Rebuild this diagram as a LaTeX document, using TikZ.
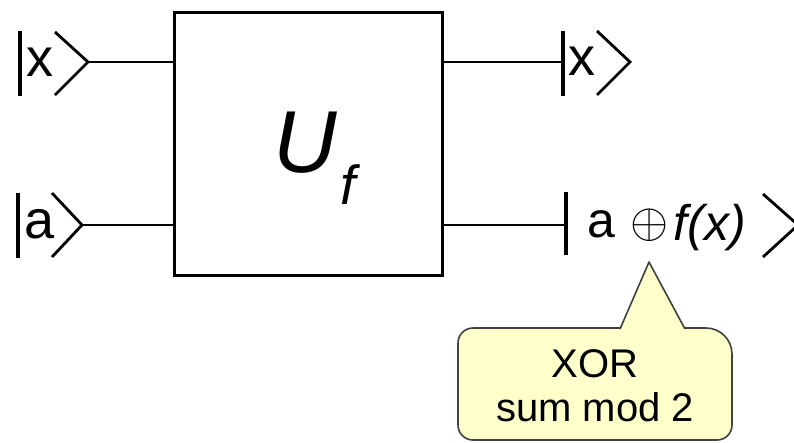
\documentclass[tikz,border=0pt]{standalone}
\usepackage{fontspec}
\setmainfont{Liberation Sans}
\usetikzlibrary{positioning}
\definecolor{calloutfill}{HTML}{FFFFCC}
\definecolor{calloutdraw}{HTML}{404040}

\begin{document}
\begin{tikzpicture}[x=1pt, y=-1pt, every node/.style={inner sep=0pt},
	gatebox/.style={draw, line width=3pt, minimum width=268pt, minimum height=263pt},
	wire/.style={line width=2.5pt},
	ketbar/.style={line width=3.5pt},
	ketangle/.style={line width=2.8pt, line join=miter},
	ketletter/.style={anchor=base, font=\fontsize{54}{60}\selectfont},
	callout/.style={fill=calloutfill, draw=calloutdraw, line width=1.6pt}]
	\useasboundingbox (0,0) rectangle (794,442);
	% gate
	\node[gatebox] (Uf) at (308.5,144) {};
	\node[anchor=base, font=\fontsize{88}{90}\selectfont\itshape] (Ulabel) at (305,172) {U};
	\node[anchor=base, font=\fontsize{55}{60}\selectfont\itshape] (flabel) at (348,204) {f};
	% inputs
	\draw[ketbar] (20,31) -- (20,96);
	\node[ketletter] (xinlabel) at (40.5,76) {x};
	\coordinate (xin) at (88,62);
	\draw[ketangle] (55,32) -- (xin) -- (55,95);
	\draw[ketbar] (18,193) -- (18,258);
	\node[ketletter] (ainlabel) at (40,238) {a};
	\coordinate (ain) at (82,225);
	\draw[ketangle] (52,193) -- (ain) -- (52,257);
	\draw[wire] (xin) -- (Uf.west |- xin);
	\draw[wire] (ain) -- (Uf.west |- ain);
	% outputs
	\coordinate (xout) at (563,62);
	\coordinate (aout) at (566,225);
	\draw[wire] (Uf.east |- xout) -- (xout);
	\draw[wire] (Uf.east |- aout) -- (aout);
	\draw[ketbar] (563,31) -- (563,96);
	\node[ketletter] (xoutlabel) at (582,75) {x};
	\draw[ketangle] (597,31) -- (630,62) -- (597,95);
	\draw[ketbar] (566,192) -- (566,255);
	\node[ketletter, font=\fontsize{50}{56}\selectfont] (aoutlabel) at (601,237) {a};
	\node (plus) at (650,225) {\scalebox{4.9}{$\oplus$}};
	\node[anchor=base, font=\fontsize{50}{56}\selectfont\itshape] (fx) at (710,240) {f(x)};
	\draw[ketangle] (763,194) -- (798,225) -- (763,257);
	% callout
	\draw[callout] (600,328) [rounded corners=26pt] -- (732,328) [rounded corners=15pt] -- (732,440) -- (458,440) -- (458,328) -- cycle;
	\fill[calloutfill] (620,330) -- (649,262) -- (685,330) -- cycle;
	\draw[calloutdraw, line width=1.6pt, line join=round] (620,329) -- (649,262) -- (685,329);
	\node[align=center, font=\fontsize{40}{44}\selectfont] (xortext) at (595,386) {XOR\\sum mod 2};
\end{tikzpicture}
\end{document}
